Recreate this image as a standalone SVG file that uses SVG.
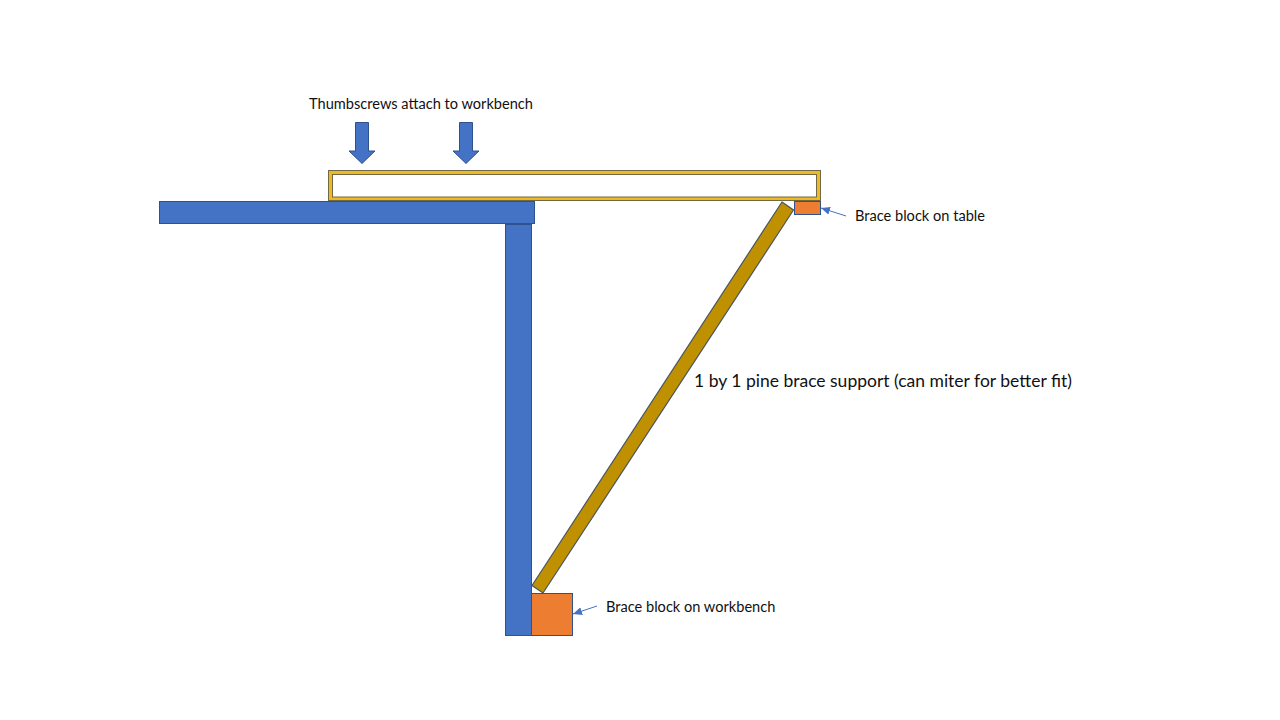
<svg xmlns="http://www.w3.org/2000/svg" width="1280" height="720" viewBox="0 0 1280 720">
<style>
.blue{fill:#4472c4;stroke:#2f528f;stroke-width:1}
.orange{fill:#ed7d31;stroke:#2f528f;stroke-width:1}
.t{font-family:Lato,"Open Sans",sans-serif;fill:#111}
.s{font-size:14.6px}
.leader{stroke:#4472c4;stroke-width:1;fill:none;marker-end:url(#arrow)}
</style>
<defs><marker id="arrow" markerUnits="userSpaceOnUse" markerWidth="10" markerHeight="8" refX="9" refY="4" orient="auto"><path d="M0 0L9 4L0 8Z" fill="#4472c4"/></marker></defs>
<rect width="1280" height="720" fill="#fff"/>
<g id="clamp-board"><rect x="328.500" y="170.500" width="492" height="30" fill="#f2b824" stroke="#6f6a45" stroke-width="1"/><rect x="332.500" y="174.500" width="484" height="22.500" fill="#fff" stroke="#6f6a45" stroke-width="1"/></g>
<g id="table-top"><rect class="blue" x="159.500" y="201.500" width="375" height="22"/></g>
<g id="workbench-leg"><rect class="blue" x="505.500" y="224.500" width="26" height="411"/></g>
<g id="block-workbench"><rect class="orange" x="531.500" y="593.500" width="41" height="42"/></g>
<g id="block-table"><rect class="orange" x="794.500" y="201.500" width="26" height="13"/></g>
<g id="brace"><polygon points="782,202 793.500,210 543,593 532,585.500" fill="#bf9000" stroke="#4a5560" stroke-width="1.200"/></g>
<g id="arrow-1"><polygon class="blue" points="355.500,122.500 368.500,122.500 368.500,151 375,151 362,163.500 349,151 355.500,151"/></g>
<g id="arrow-2"><polygon class="blue" points="459.500,122.500 472.500,122.500 472.500,151 479,151 466,163.500 453,151 459.500,151"/></g>
<g id="connectors"><line class="leader" x1="846" y1="216" x2="821" y2="208"/><line class="leader" x1="597" y1="606" x2="573" y2="614"/></g>
<g id="labels">
<text class="t s" x="309" y="109">Thumbscrews attach to workbench</text>
<text class="t s" x="855" y="221">Brace block on table</text>
<text class="t s" x="606" y="612">Brace block on workbench</text>
<text class="t" x="694" y="386.500" font-size="17.500">1 by 1 pine brace support (can miter for better fit)</text>
</g>
</svg>
